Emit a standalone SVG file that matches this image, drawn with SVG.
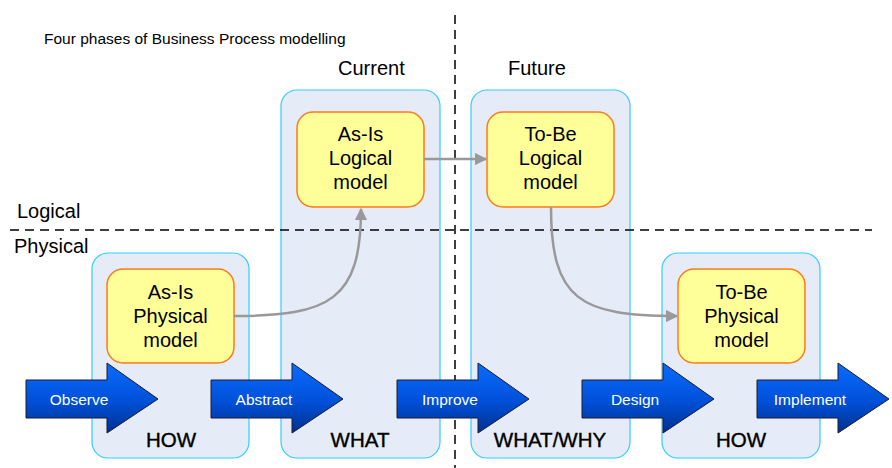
<svg xmlns="http://www.w3.org/2000/svg" width="892" height="468" viewBox="0 0 892 468">
  <defs>
    <linearGradient id="blueArrow" x1="0" y1="0" x2="0" y2="1">
      <stop offset="0" stop-color="#0a6cff"/>
      <stop offset="0.55" stop-color="#0050d8"/>
      <stop offset="1" stop-color="#00308f"/>
    </linearGradient>
    <marker id="grayHead" viewBox="0 0 10 10" refX="9" refY="5" markerWidth="5" markerHeight="5" orient="auto" markerUnits="strokeWidth">
      <path d="M0,0 L10,5 L0,10 z" fill="#999999"/>
    </marker>
    <path id="flowArrow" d="M0,17 L81,17 L81,0 L132,36 L81,70 L81,55 L0,55 z"/>
  </defs>
  <style>
    .phase { fill: #e6ecf7; stroke: #33ccff; stroke-width: 1.2; }
    .node { fill: #ffff99; stroke: #ff7a1a; stroke-width: 1.5; }
    .nodeText { font-family: "Liberation Sans", Arial, sans-serif; font-size: 20px; fill: #000; text-anchor: middle; }
    .label { font-family: "Liberation Sans", Arial, sans-serif; font-size: 20px; fill: #000; }
    .phaseLabel { font-family: "Liberation Sans", Arial, sans-serif; font-size: 20.5px; fill: #000; text-anchor: middle; stroke: #000; stroke-width: 0.4; }
    .arrowText { font-family: "Liberation Sans", Arial, sans-serif; font-size: 15.5px; fill: #fff; text-anchor: middle; }
    .divider { stroke: #000; stroke-width: 1.5; stroke-dasharray: 9 6; fill: none; }
    .link { stroke: #999999; stroke-width: 2.5; fill: none; marker-end: url(#grayHead); }
    .flow { fill: url(#blueArrow); stroke: #1a1a33; stroke-width: 1; }
  </style>

  <rect width="892" height="468" fill="#ffffff"/>

  <text x="44" y="44" font-family="Liberation Sans, Arial, sans-serif" font-size="15.5" fill="#000">Four phases of Business Process modelling</text>

  <!-- phase columns -->
  <g id="phase-observe"><rect class="phase" x="92" y="253" width="157" height="205" rx="16"/></g>
  <g id="phase-current"><rect class="phase" x="281" y="90" width="159" height="368" rx="16"/></g>
  <g id="phase-future"><rect class="phase" x="471" y="90" width="159" height="368" rx="16"/></g>
  <g id="phase-implement"><rect class="phase" x="662" y="253" width="158" height="205" rx="16"/></g>

  <!-- dividers -->
  <line class="divider" x1="10" y1="230" x2="872" y2="230"/>
  <line class="divider" x1="455" y1="15" x2="455" y2="468"/>

  <text class="label" x="338" y="75">Current</text>
  <text class="label" x="508" y="75">Future</text>
  <text class="label" x="17" y="218">Logical</text>
  <text class="label" x="14" y="253">Physical</text>

  <!-- models -->
  <g id="asis-physical">
    <rect class="node" x="107" y="269" width="127" height="94" rx="16"/>
    <text class="nodeText" x="170.5" y="299">As-Is</text>
    <text class="nodeText" x="170.5" y="323">Physical</text>
    <text class="nodeText" x="170.5" y="347">model</text>
  </g>
  <g id="asis-logical">
    <rect class="node" x="297" y="112" width="127" height="95" rx="16"/>
    <text class="nodeText" x="360.5" y="141">As-Is</text>
    <text class="nodeText" x="360.5" y="165">Logical</text>
    <text class="nodeText" x="360.5" y="189">model</text>
  </g>
  <g id="tobe-logical">
    <rect class="node" x="487" y="112" width="127" height="95" rx="16"/>
    <text class="nodeText" x="550.5" y="141">To-Be</text>
    <text class="nodeText" x="550.5" y="165">Logical</text>
    <text class="nodeText" x="550.5" y="189">model</text>
  </g>
  <g id="tobe-physical">
    <rect class="node" x="678" y="269" width="127" height="94" rx="16"/>
    <text class="nodeText" x="741.5" y="299">To-Be</text>
    <text class="nodeText" x="741.5" y="323">Physical</text>
    <text class="nodeText" x="741.5" y="347">model</text>
  </g>

  <!-- connectors -->
  <g id="connectors">
    <path class="link" d="M234,316 C330,316 361,300 361,209"/>
    <path class="link" d="M424,159 L486,159"/>
    <path class="link" d="M551,207 C551,300 580,316 677,316"/>
  </g>

  <!-- process steps -->
  <g id="step-observe" transform="translate(26,363)">
    <use href="#flowArrow" class="flow"/>
    <text class="arrowText" x="53" y="42">Observe</text>
  </g>
  <g id="step-abstract" transform="translate(211,363)">
    <use href="#flowArrow" class="flow"/>
    <text class="arrowText" x="53" y="42">Abstract</text>
  </g>
  <g id="step-improve" transform="translate(397,363)">
    <use href="#flowArrow" class="flow"/>
    <text class="arrowText" x="53" y="42">Improve</text>
  </g>
  <g id="step-design" transform="translate(582,363)">
    <use href="#flowArrow" class="flow"/>
    <text class="arrowText" x="53" y="42">Design</text>
  </g>
  <g id="step-implement" transform="translate(757,363)">
    <use href="#flowArrow" class="flow"/>
    <text class="arrowText" x="53" y="42">Implement</text>
  </g>

  <text class="phaseLabel" x="171" y="447">HOW</text>
  <text class="phaseLabel" x="360" y="447">WHAT</text>
  <text class="phaseLabel" x="550" y="447">WHAT/WHY</text>
  <text class="phaseLabel" x="741" y="447">HOW</text>
</svg>
